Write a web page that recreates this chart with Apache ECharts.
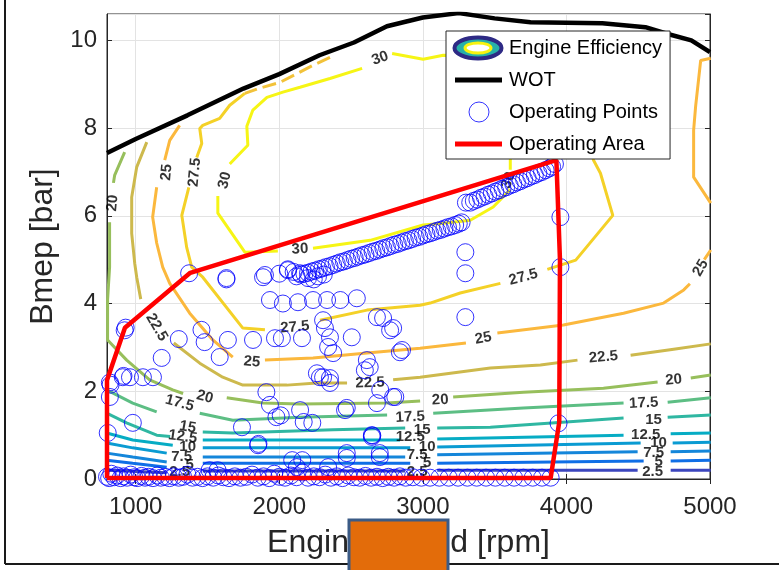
<!DOCTYPE html>
<html><head><meta charset="utf-8">
<script src="https://cdn.jsdelivr.net/npm/echarts@6/dist/echarts.min.js"></script>
<style>html,body{margin:0;padding:0;background:#fff}#c{width:779px;height:570px}</style>
</head><body><div id="c"></div><script>
// ---------- DATA ----------
const xTickValues = [1000, 2000, 3000, 4000, 5000];
const xRange = [800, 5000];
const yRange = [0, 10.6];

const contourLevels = ['2.5', '5', '7.5', '10', '12.5', '15', '17.5', '20', '22.5', '25', '27.5', '30'];

// contour lines [rpm, bmep]; null = gap (label break)
const contour2_5 = [[798,0.20],[1216,0.14],null,[1467,0.18],[2877,0.18],null,[3100,0.20],[4496,0.20],null,[4726,0.20],[5005,0.20]];
const contour5 = [[798,0.43],[979,0.36],[1216,0.27],null,[1467,0.36],[2912,0.36],null,[3100,0.36],[4538,0.41],null,[4726,0.41],[5005,0.43]];
const contour7_5 = [[798,0.59],[979,0.50],[1216,0.39],null,[1467,0.50],[2877,0.50],null,[3100,0.55],[4496,0.62],null,[4726,0.62],[5005,0.64]];
const contour10 = [[798,0.82],[979,0.71],[1216,0.59],null,[1467,0.71],[2912,0.71],null,[3100,0.73],[4517,0.82],null,[4740,0.82],[5005,0.84]];
const contour12_5 = [[798,1.05],[979,0.89],[1258,0.77],null,[1467,0.89],[2841,0.89],null,[3100,0.91],[4398,1.00],null,[4726,1.03],[5005,1.05]];
const contour15 = [[798,1.50],[936,1.28],[1146,1.00],[1240,0.97],null,[1467,1.07],[1676,1.05],[2374,1.12],[2877,1.16],null,[3100,1.16],[3470,1.18],[4398,1.39],null,[4705,1.41],[5005,1.46]];
const contour17_5 = [[798,2.03],[979,1.73],[1146,1.53],null,[1446,1.50],[1676,1.34],[2144,1.41],[2751,1.46],null,[3072,1.50],[3700,1.62],[4398,1.73],null,[4705,1.75],[5005,1.85]];
const contour20 = [[923,7.45],[853,6.92],[845,6.75],null,[818,5.85],[818,5.74],[818,4.83],[804,4.08],[804,3.17],[937,2.71],[1097,2.26],[1258,2.03],[1330,1.95],null,[1634,1.85],[1886,1.73],[2144,1.71],[2751,1.73],[2981,1.78],null,[3211,1.87],[3700,1.98],[4258,2.07],[4635,2.21],null,[4866,2.30],[5005,2.37]];
const contour22_5 = [[1077,7.68],[1007,7.11],[972,6.42],[972,5.60],[993,4.92],[1007,4.60],[1035,4.10],null,[1265,3.10],[1446,2.64],[1606,2.32],[1746,2.14],[2053,2.14],[2262,2.19],[2472,2.19],null,[2793,2.26],[2981,2.32],[3470,2.53],[3819,2.60],[4077,2.71],null,[4447,2.82],[4747,2.96],[5005,3.08]];
const contour25 = [[1306,8.06],[1237,7.72],[1202,7.27],null,[1146,6.65],[1118,5.97],[1146,5.38],[1188,4.83],[1237,4.46],[1376,3.78],[1537,3.17],[1676,2.78],null,[1900,2.71],[2235,2.76],[2611,2.87],[2981,2.98],[3300,3.10],null,[3519,3.33],[3979,3.51],[4398,3.78],[4677,4.01],[4817,4.31],[4860,4.45],null,[4960,5.00],[5005,5.22]];
const contour25Right = [[5005,6.29],[4886,6.88],[4886,7.95],[4900,8.50],[4935,9.54],[5005,9.59]];
const contour27_5 = [[1760,8.79],[1655,8.52],[1585,8.22],[1467,8.06],[1446,7.99],[1460,7.65],[1425,7.33],null,[1370,6.65],[1321,6.01],[1355,5.28],[1390,4.83],[1467,4.60],[1746,3.44],[1900,3.40],null,[2283,3.62],[2611,3.85],[2981,3.96],[3051,4.01],[3260,4.24],[3540,4.46],null,[3867,4.78],[4065,4.99],[4323,6.01],[4237,6.97],[4188,7.27],[4153,8.18],[4167,9.54]];
const contour27_5Top = [[2353,9.61],[2234,9.43],[2004,9.04],[1865,8.91],[1760,8.79]];
const contour30 = [[3540,9.20],[3260,9.64],[3142,9.66],[3002,9.57],[2786,9.70],null,[2577,9.36],[2353,9.13],[2144,8.93],[2025,8.82],[1914,8.70],[1816,8.41],[1774,8.04],[1781,7.61],[1690,7.30],[1655,7.18],null,[1572,6.45],[1572,6.06],[1760,5.17],[1990,5.20],null,[2235,5.26],[2633,5.44],[3002,5.79],[3142,5.83],[3330,5.90],[3490,6.20],[3609,6.60],null,[3609,7.05],[3609,7.27],[3644,8.18],[3540,9.20]];

// contour labels [rpm, bmep, text]
const contourLabels = [
  [2702,9.59,'30'],[1621,6.81,'30'],[2144,5.24,'30'],[3596,6.81,'30'],
  [1411,6.99,'27.5'],[2109,3.46,'27.5'],[3700,4.60,'27.5'],
  [1216,6.99,'25'],[1809,2.67,'25'],[3421,3.21,'25'],[4935,4.81,'25'],
  [1146,3.46,'22.5'],[2632,2.19,'22.5'],[4258,2.78,'22.5'],
  [839,6.29,'20'],[1481,1.87,'20'],[3121,1.80,'20'],[4747,2.26,'20'],
  [1306,1.73,'17.5'],[2912,1.41,'17.5'],[4538,1.73,'17.5'],
  [1362,1.18,'15'],[2995,1.12,'15'],[4607,1.34,'15'],
  [1327,0.96,'12.5'],[2912,0.96,'12.5'],[4552,1.00,'12.5'],
  [1362,0.73,'10'],[3030,0.73,'10'],[4642,0.82,'10'],
  [1320,0.50,'7.5'],[2960,0.55,'7.5'],[4607,0.59,'7.5'],
  [1376,0.32,'5'],[3030,0.36,'5'],[4642,0.39,'5'],
  [1306,0.16,'2.5'],[2960,0.16,'2.5'],[4600,0.16,'2.5']
];
const contourLabelAngles = [20,75,3,70, 85,5,15, 85,-5,10,60, -60,2,5, 85,-15,3,5, -15,3,3, -10,0,0, -8,0,0, 0,0,0, 0,0,0, 0,0,0, 0,0,0];

// wide-open throttle curve
const wotCurve = [[800,7.43],[1000,7.75],[1360,8.29],[1750,8.90],[2000,9.23],[2280,9.66],[2520,9.95],[2750,10.32],[2850,10.40],[3000,10.52],[3250,10.62],[3500,10.50],[3750,10.41],[4250,10.39],[4550,10.30],[4700,10.15],[4870,10.00],[5000,9.73]];

// operating area boundary
const operatingArea = [[800,0.02],[800,2.25],[925,3.45],[1380,4.70],[3930,7.27],[3955,5.00],[3950,1.30],[3890,0.02],[800,0.02]];

// operating points
const pointsScattered = [
  [1372,4.69],[1632,4.55],[1632,4.58],[1900,4.65],[2060,4.78],[2145,4.69],[1887,4.60],
  [1935,4.08],[2025,4.00],[2130,4.03],[2235,4.08],[2333,4.08],[2425,4.08],[2540,4.12],
  [923,3.39],[930,3.45],[1300,3.19],[1458,3.40],[1480,3.12],[1642,3.17],[1585,2.78],[1817,3.17],
  [1970,3.21],[2018,3.21],[2158,3.21],[2305,3.62],[2353,3.23],[2375,2.87],[2505,3.23],[2318,3.44],[2340,3.01],
  [2723,3.67],[2680,3.69],[2793,3.44],[2772,3.39],[2840,2.89],[2855,2.94],
  [1181,2.76],[1120,2.32],[1050,2.32],[960,2.32],[910,2.32],[915,2.35],[820,2.20],[825,2.15],[820,1.87],
  [805,1.05],[980,1.28],
  [2262,2.41],[2283,2.32],[2305,2.32],[2353,2.30],[2353,2.19],[2596,2.48],[2610,2.71],[2630,2.55],[2703,2.03],
  [2680,1.73],[2793,1.87],[2808,1.87],
  [1910,1.98],[1935,1.69],[1980,1.41],[2010,1.45],[2145,1.57],[2170,1.30],[2230,1.28],[1740,1.18],
  [1852,0.77],[1855,0.80],[2458,1.57],[2470,1.62],[2645,0.96],[2648,0.99],[2645,1.00],
  [2700,0.59],[2470,0.59],[2470,0.48],[2700,0.50],[2090,0.43],[2160,0.43],[2122,0.27],[2340,0.27],
  [1570,0.20],[1515,0.20],
  [3296,5.17],[3296,4.69],[3296,3.69],[3958,5.97],[3958,4.83],[3945,1.27]
];
const pointsBandLow = [
  [2000,4.68],[2060,4.76],[2100,4.72],[2120,4.62],[2200,4.58],[2240,4.55],[2270,4.62],[2310,4.66],
  [2150,4.66],[2175,4.68],[2200,4.70],[2225,4.73],[2250,4.75],[2275,4.78],[2300,4.80],[2325,4.83],
  [2350,4.85],[2375,4.88],[2400,4.91],[2425,4.94],[2450,4.96],[2475,4.99],[2500,5.02],[2525,5.04],
  [2550,5.07],[2575,5.10],[2600,5.12],[2625,5.15],[2650,5.18],[2675,5.20],[2700,5.23],[2725,5.26],
  [2750,5.28],[2775,5.31],[2800,5.34],[2825,5.36],[2850,5.39],[2875,5.42],[2900,5.44],[2925,5.47],
  [2950,5.50],[2975,5.52],[3000,5.55],[3025,5.58],[3050,5.60],[3075,5.63],[3100,5.66],[3125,5.68],
  [3150,5.71],[3175,5.74],[3200,5.76],[3225,5.79],[3250,5.82],[3270,5.85]
];
const pointsBandHigh = [
  [3300,6.30],[3330,6.30],[3355,6.34],[3380,6.37],[3405,6.41],[3430,6.44],[3455,6.48],[3480,6.51],
  [3505,6.55],[3530,6.58],[3555,6.62],[3580,6.65],[3605,6.69],[3630,6.72],[3655,6.76],[3680,6.79],
  [3705,6.83],[3730,6.86],[3755,6.90],[3780,6.93],[3805,6.97],[3830,7.00],[3855,7.04],[3880,7.08],
  [3900,7.12],[3920,7.18]
];
const pointsIdle = [
  [800,0.05],[815,0.02],[830,0.12],[850,0.04],[870,0.08],[895,0.02],[915,0.06],[940,0.03],[965,0.10],
  [990,0.04],[1010,0.02],[1040,0.07],[1065,0.03],[1090,0.05],[1120,0.02],[1150,0.08],[1175,0.03],
  [1205,0.05],[1235,0.02],[1265,0.06],[1300,0.03],[1330,0.05],[1360,0.10],[1395,0.03],[1430,0.05],
  [1465,0.02],[1500,0.06],[1540,0.03],[1575,0.08],[1610,0.04],[1650,0.02],[1690,0.06],[1730,0.03],
  [1770,0.05],[1810,0.10],[1850,0.03],[1890,0.06],[1930,0.02],[1965,0.12],[2000,0.05],[2040,0.03],
  [2080,0.08],[2120,0.04],[2160,0.15],[2200,0.03],[2240,0.06],[2280,0.04],[2320,0.10],[2360,0.03],
  [2400,0.06],[2440,0.02],[2480,0.08],[2520,0.04],[2560,0.03],[2600,0.07],[2640,0.03],[2680,0.05],
  [2720,0.02],[2760,0.05],[2800,0.03],[2840,0.06],[2880,0.03],[2930,0.04],[2990,0.03],[3050,0.03],
  [3115,0.03],[3180,0.03],[3245,0.03],[3310,0.03],[3375,0.03],[3440,0.03],[3505,0.03],[3570,0.03],
  [3635,0.03],[3700,0.03],[3765,0.03],[3830,0.03],[3890,0.03]
];

// ---------- STYLE ----------
const contourColors = ['#3C46BE','#0F6EE6','#1486DA','#0A9BD2','#06ACC4','#2FB7A2','#5DBE84','#97BF5C','#CDB94D','#FBB83D','#F4D127','#F6F515'];
const FONT = '"Liberation Sans", Arial, Helvetica, sans-serif';
const AX = '#262626';

function svgIcon(inner) {
  return 'image://data:image/svg+xml;charset=utf-8,' + encodeURIComponent(
    '<svg xmlns="http://www.w3.org/2000/svg" width="52" height="26" viewBox="0 0 52 26">' + inner + '</svg>');
}
const iconEff = svgIcon('<ellipse cx="26" cy="13" rx="23.5" ry="10.5" fill="#27B1A9" stroke="#2E2A85" stroke-width="4"/>' +
  '<ellipse cx="26" cy="13" rx="13" ry="5" fill="#ffffff" stroke="#F7F20F" stroke-width="3"/>');
const iconWot = svgIcon('<line x1="3" y1="13" x2="50" y2="13" stroke="#000" stroke-width="5"/>');
const iconPts = svgIcon('<circle cx="27" cy="13" r="10" fill="none" stroke="#0000FF" stroke-width="1"/>');
const iconArea = svgIcon('<line x1="3" y1="13" x2="50" y2="13" stroke="#FF0000" stroke-width="5"/>');

const contourArrays = [contour2_5, contour5, contour7_5, contour10, contour12_5, contour15, contour17_5, contour20, contour22_5, contour25, contour27_5, contour30];

const series = [];
contourArrays.forEach((arr, i) => {
  series.push({
    name: 'Engine Efficiency', type: 'line', data: arr, connectNulls: false,
    symbol: 'none', z: 2, silent: true,
    lineStyle: { color: contourColors[i], width: 3 }
  });
});
series.push({ name: 'Engine Efficiency', type: 'line', data: contour25Right, symbol: 'none', z: 2, silent: true,
  lineStyle: { color: contourColors[9], width: 3 } });
series.push({ name: 'Engine Efficiency', type: 'line', data: contour27_5Top, symbol: 'none', z: 2, silent: true,
  lineStyle: { color: '#F2C23A', width: 3, type: [14, 6] } });
series.push({
  name: 'labels', type: 'scatter', z: 3, silent: true, symbolSize: 0.1,
  itemStyle: { color: 'rgba(0,0,0,0)' },
  data: contourLabels.map((d, i) => ({
    value: [d[0], d[1]], name: d[2],
    label: { rotate: contourLabelAngles[i] }
  })),
  label: { show: true, position: 'inside', formatter: '{b}', color: '#000', fontWeight: 'bold', fontSize: 15, fontFamily: FONT }
});
series.push({ name: 'WOT', type: 'line', data: wotCurve, symbol: 'none', z: 4, silent: true,
  lineStyle: { color: '#000', width: 4.5 } });
[pointsIdle, pointsScattered, pointsBandLow, pointsBandHigh].forEach(arr => {
  series.push({ name: 'Operating Points', type: 'scatter', data: arr, symbol: 'circle', symbolSize: 17, z: 5, silent: true,
    itemStyle: { color: 'rgba(0,0,0,0)', borderColor: '#0000FF', borderWidth: 1 } });
});
series.push({ name: 'Operating Area', type: 'line', data: operatingArea, symbol: 'none', z: 6, silent: true,
  lineStyle: { color: '#FF0000', width: 4.5 } });

const option = {
  animation: false,
  backgroundColor: '#fff',
  grid: { left: 107, right: 69, top: 14, bottom: 91, show: true, borderColor: AX, borderWidth: 1, backgroundColor: '#fff' },
  legend: {
    left: 446, top: 31, orient: 'vertical', selectedMode: false,
    itemWidth: 52, itemHeight: 26, itemGap: 6, padding: [4, 8, 2, 6],
    backgroundColor: '#fff', borderColor: AX, borderWidth: 1,
    textStyle: { fontSize: 20, color: '#000', fontFamily: FONT },
    data: [
      { name: 'Engine Efficiency', icon: iconEff },
      { name: 'WOT', icon: iconWot },
      { name: 'Operating Points', icon: iconPts },
      { name: 'Operating Area', icon: iconArea }
    ],
    z: 10
  },
  xAxis: [{
    type: 'value', min: xRange[0], max: xRange[1],
    name: 'Engine Speed [rpm]', nameLocation: 'middle', nameGap: 48,
    nameTextStyle: { fontSize: 32, color: AX, fontFamily: FONT },
    axisLine: { show: true, lineStyle: { color: AX, width: 1 } },
    axisTick: { show: true, inside: true, length: 5, customValues: xTickValues, lineStyle: { color: AX } },
    axisLabel: { customValues: xTickValues, formatter: v => String(v), fontSize: 24, color: AX, fontFamily: FONT, margin: 16 },
    splitLine: { show: true, lineStyle: { color: '#E3E3E3', width: 1 } }
  }, {
    type: 'value', min: xRange[0], max: xRange[1], position: 'top',
    axisLine: { show: true, lineStyle: { color: AX, width: 1 } },
    axisTick: { show: true, inside: true, length: 5, customValues: xTickValues, lineStyle: { color: AX } },
    axisLabel: { show: false }, splitLine: { show: false }
  }],
  yAxis: [{
    type: 'value', min: yRange[0], max: yRange[1], interval: 2,
    name: 'Bmep [bar]', nameLocation: 'middle', nameGap: 38, nameRotate: 90,
    nameTextStyle: { fontSize: 32, color: AX, fontFamily: FONT },
    axisLine: { show: true, lineStyle: { color: AX, width: 1 } },
    axisTick: { show: true, inside: true, length: 5, lineStyle: { color: AX } },
    axisLabel: { fontSize: 24, color: AX, fontFamily: FONT, margin: 10, showMaxLabel: false },
    splitLine: { show: true, lineStyle: { color: '#E3E3E3', width: 1 } }
  }, {
    type: 'value', min: yRange[0], max: yRange[1], interval: 2, position: 'right',
    axisLine: { show: true, lineStyle: { color: AX, width: 1 } },
    axisTick: { show: true, inside: true, length: 5, lineStyle: { color: AX } },
    axisLabel: { show: false }, splitLine: { show: false }
  }],
  series: series,
  graphic: [
    { type: 'line', shape: { x1: 5, y1: 0, x2: 5, y2: 564 }, style: { stroke: '#1a1a1a', lineWidth: 2 }, z: 100 },
    { type: 'line', shape: { x1: 5, y1: 564, x2: 779, y2: 564 }, style: { stroke: '#1a1a1a', lineWidth: 2 }, z: 100 },
    { type: 'rect', shape: { x: 349, y: 520, width: 99, height: 60 }, style: { fill: '#E36C0A', stroke: '#3B5B86', lineWidth: 3 }, z: 100 }
  ]
};
const chart = echarts.init(document.getElementById('c'), null, { renderer: 'canvas' });
chart.setOption(option);
</script></body></html>
